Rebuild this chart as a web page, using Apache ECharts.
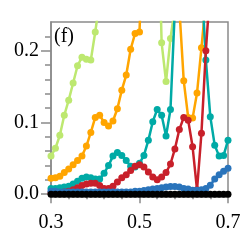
<!DOCTYPE html>
<html><head><meta charset="utf-8">
<script src="https://cdn.jsdelivr.net/npm/echarts@6/dist/echarts.min.js"></script>
<style>html,body{margin:0;padding:0;background:#fff}#c{width:252px;height:252px}</style>
</head><body><div id="c"></div>
<script>
var xs = [0.30,0.31,0.32,0.33,0.34,0.35,0.36,0.37,0.38,0.39,0.40,0.41,0.42,0.43,0.44,0.45,0.46,0.47,0.48,0.49,0.50,0.51,0.52,0.53,0.54,0.55,0.56,0.57,0.58,0.59,0.60,0.61,0.62,0.63,0.64,0.65,0.66,0.67,0.68,0.69,0.70];
var green = [0.053,0.064,0.082,0.110,0.131,0.155,0.179,0.191,0.188,0.187,0.226,0.27,0.32,0.36,0.41,0.45,0.50,0.56,0.60,0.62,0.64,0.66,0.62,0.55,0.45,0.211,0.157,0.217,0.26,0.35,0.45,0.55,0.6,0.66,0.7,0.75,0.8,0.86,0.9,0.95,1.0];
var orange = [0.022,0.023,0.025,0.030,0.035,0.041,0.047,0.053,0.067,0.086,0.107,0.110,0.100,0.095,0.102,0.119,0.145,0.166,0.202,0.224,0.226,0.40,0.5,0.6,0.65,0.7,0.65,0.55,0.45,0.26,0.158,0.107,0.106,0.141,0.204,0.27,0.4,0.5,0.6,0.7,0.8];
var teal = [0.008,0.008,0.009,0.010,0.011,0.014,0.018,0.022,0.024,0.023,0.021,0.021,0.029,0.040,0.053,0.058,0.054,0.047,0.039,0.038,0.043,0.054,0.075,0.101,0.118,0.110,0.081,0.118,0.26,0.4,0.5,0.55,0.5,0.4,0.30,0.187,0.108,0.068,0.053,0.054,0.075];
var red = [0.002,0.002,0.002,0.003,0.004,0.006,0.009,0.012,0.014,0.015,0.015,0.012,0.008,0.008,0.011,0.017,0.023,0.027,0.033,0.039,0.041,0.038,0.031,0.024,0.020,0.024,0.030,0.042,0.063,0.090,0.107,0.103,0.066,0.006,0.085,0.200,0.29,0.4,0.5,0.55,0.6];
var blue = [0.004,0.004,0.003,0.003,0.003,0.003,0.003,0.003,0.003,0.003,0.003,0.003,0.003,0.003,0.003,0.003,0.003,0.003,0.003,0.004,0.004,0.005,0.006,0.007,0.008,0.009,0.010,0.0105,0.0105,0.010,0.008,0.007,0.0055,0.0055,0.006,0.008,0.0125,0.021,0.027,0.032,0.036];
var black = [0,0,0,0,0,0,0,0,0,0,0,0,0,0,0,0,0,0,0,0,0,0,0,0,0,0,0,0,0,0,0,0,0,0,0,0,0,0,0,0,0];
var yLabels = [0, 0.1, 0.2];
var yMinor = [0.02,0.04,0.06,0.08,0.12,0.14,0.16,0.18,0.22];
var xLabels = [0.3, 0.5, 0.7];
var xMinor = [0.34,0.38,0.42,0.46,0.54,0.58,0.62,0.66];

function pairs(v){ return xs.map(function(x,i){ return [x, v[i]]; }); }
var seriesDefs = [
  ['green', green, '#bde870'],
  ['orange', orange, '#ffa500'],
  ['teal', teal, '#00aaa6'],
  ['red', red, '#c8202a'],
  ['blue', blue, '#2a74bb'],
  ['black', black, '#000000']
];
var gray = '#8a8a8a';
var font = 'Liberation Serif';
var chart = echarts.init(document.getElementById('c'), null, {renderer:'canvas'});
chart.setOption({
  animation:false,
  grid:{left:51, right:24, top:22, bottom:55, show:true, borderColor:gray, borderWidth:1.5, backgroundColor:'transparent'},
  xAxis:[
    {type:'value', min:0.3, max:0.7, position:'bottom',
     axisLine:{show:true, lineStyle:{color:gray, width:1.5}},
     axisTick:{show:true, customValues:xLabels, length:9, lineStyle:{color:gray, width:1.5}},
     axisLabel:{customValues:xLabels, formatter:function(v){return v.toFixed(1);}, color:'#000', fontFamily:font, fontSize:20, margin:16},
     splitLine:{show:false}},
    {type:'value', min:0.3, max:0.7, position:'bottom',
     axisLine:{show:false},
     axisTick:{show:true, customValues:xMinor, length:5, lineStyle:{color:gray, width:1.5}},
     axisLabel:{show:false}, splitLine:{show:false}}
  ],
  yAxis:[
    {type:'value', min:-0.004, max:0.24, position:'left',
     axisLine:{show:true, lineStyle:{color:gray, width:1.5}},
     axisTick:{show:true, customValues:yLabels, length:10, lineStyle:{color:gray, width:1.5}},
     axisLabel:{customValues:yLabels, formatter:function(v){return v.toFixed(1);}, color:'#000', fontFamily:font, fontSize:20, margin:12},
     splitLine:{show:false}},
    {type:'value', min:-0.004, max:0.24, position:'left',
     axisLine:{show:false},
     axisTick:{show:true, customValues:yMinor, length:6, lineStyle:{color:gray, width:1.5}},
     axisLabel:{show:false}, splitLine:{show:false}}
  ],
  graphic:[{type:'text', left:54, top:27, style:{text:'(f)', font:'20px "Liberation Serif"', fill:'#000'}}],
  series: seriesDefs.map(function(d,i){
    return {type:'line', name:d[0], data:pairs(d[1]), xAxisIndex:0, yAxisIndex:0, clip:true,
      symbol:'circle', symbolSize:7, showSymbol:true, z:2+i,
      lineStyle:{color:d[2], width:2.5}, itemStyle:{color:d[2]}};
  })
});
</script></body></html>
